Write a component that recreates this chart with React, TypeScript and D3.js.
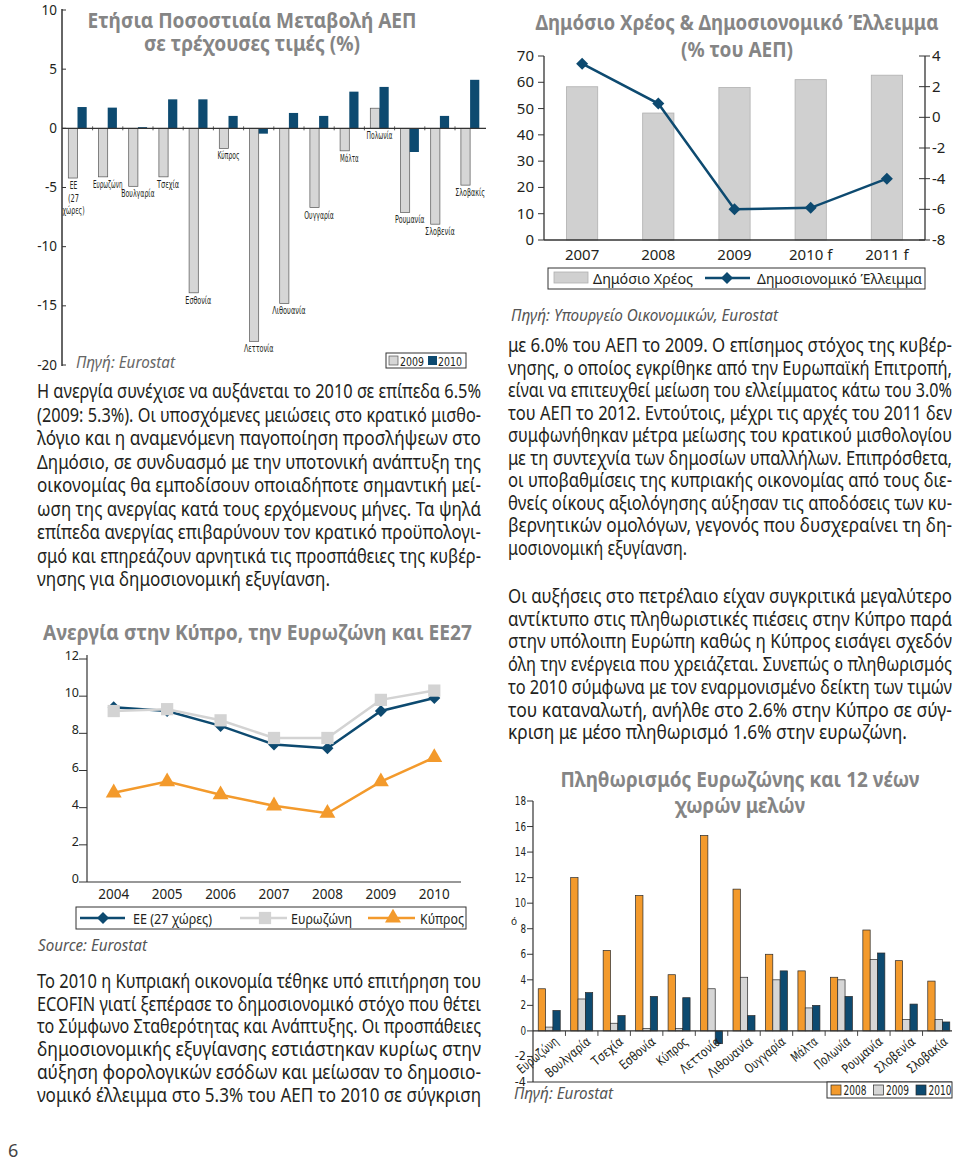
import React from "react";
import * as d3 from "d3";

// ---------- DATA ----------
const gdpCountries = ["ΕΕ\n(27\nχώρες)", "Ευρωζώνη", "Βουλγαρία", "Τσεχία", "Εσθονία", "Κύπρος", "Λεττονία", "Λιθουανία", "Ουγγαρία", "Μάλτα", "Πολωνία", "Ρουμανία", "Σλοβενία", "Σλοβακίς"];
const gdp2009 = [-4.2, -4.1, -4.9, -4.1, -13.9, -1.7, -18.0, -14.8, -6.7, -1.9, 1.7, -7.1, -8.1, -4.8];
const gdp2010 = [1.8, 1.75, 0.1, 2.45, 2.45, 1.05, -0.45, 1.3, 1.05, 3.1, 3.5, -2.0, 1.05, 4.1];
const gdpTicks = [10, 5, 0, -5, -10, -15, -20];

const debtYears = ["2007", "2008", "2009", "2010 f", "2011 f"];
const debtValues = [58.3, 48.3, 58.0, 61.0, 62.7];
const deficitValues = [3.5, 0.9, -6.0, -5.9, -4.0];
const debtTicks = [0, 10, 20, 30, 40, 50, 60, 70];
const deficitTicks = [4, 2, 0, -2, -4, -6, -8];

const unempYears = ["2004", "2005", "2006", "2007", "2008", "2009", "2010"];
const unempEU27 = [9.4, 9.2, 8.4, 7.4, 7.2, 9.2, 9.9];
const unempEurozone = [9.2, 9.3, 8.7, 7.75, 7.75, 9.8, 10.3];
const unempCyprus = [4.8, 5.4, 4.7, 4.1, 3.7, 5.4, 6.7];
const unempTicks = [0, 2, 4, 6, 8, 10, 12];

const inflCountries = ["Ευρωζώνη", "Βουλγαρία", "Τσεχία", "Εσθονία", "Κύπρος", "Λεττονία", "Λιθουανία", "Ουγγαρία", "Μάλτα", "Πολωνία", "Ρουμανία", "Σλοβενία", "Σλοβακία"];
const infl2008 = [3.3, 12.0, 6.3, 10.6, 4.4, 15.3, 11.1, 6.0, 4.7, 4.2, 7.9, 5.5, 3.9];
const infl2009 = [0.3, 2.5, 0.6, 0.2, 0.2, 3.3, 4.2, 4.0, 1.8, 4.0, 5.6, 0.9, 0.9];
const infl2010 = [1.6, 3.0, 1.2, 2.7, 2.6, -1.0, 1.2, 4.7, 2.0, 2.7, 6.1, 2.1, 0.7];
const inflSeries = ["2008", "2009", "2010"];
const inflTicks = [18, 16, 14, 12, 10, 8, 6, 4, 2, 0, -2, -4];

const leftPara = [
  "Η ανεργία συνέχισε να αυξάνεται το 2010 σε επίπεδα 6.5%",
  "(2009: 5.3%). Οι υποσχόμενες μειώσεις στο κρατικό μισθο-",
  "λόγιο και η αναμενόμενη παγοποίηση προσλήψεων στο",
  "Δημόσιο, σε συνδυασμό με την υποτονική ανάπτυξη της",
  "οικονομίας θα εμποδίσουν οποιαδήποτε σημαντική μεί-",
  "ωση της ανεργίας κατά τους ερχόμενους μήνες. Τα ψηλά",
  "επίπεδα ανεργίας επιβαρύνουν τον κρατικό προϋπολογι-",
  "σμό και επηρεάζουν αρνητικά τις προσπάθειες της κυβέρ-",
  "νησης για δημοσιονομική εξυγίανση.",
];
const rightPara1 = [
  "με 6.0% του ΑΕΠ το 2009. Ο επίσημος στόχος της κυβέρ-",
  "νησης, ο οποίος εγκρίθηκε από την Ευρωπαϊκή Επιτροπή,",
  "είναι να επιτευχθεί μείωση του ελλείμματος κάτω του 3.0%",
  "του ΑΕΠ το 2012. Εντούτοις, μέχρι τις αρχές του 2011 δεν",
  "συμφωνήθηκαν μέτρα μείωσης του κρατικού μισθολογίου",
  "με τη συντεχνία των δημοσίων υπαλλήλων. Επιπρόσθετα,",
  "οι υποβαθμίσεις της κυπριακής οικονομίας από τους διε-",
  "θνείς οίκους αξιολόγησης αύξησαν τις αποδόσεις των κυ-",
  "βερνητικών ομολόγων, γεγονός που δυσχεραίνει τη δη-",
  "μοσιονομική εξυγίανση.",
];
const rightPara2 = [
  "Οι αυξήσεις στο πετρέλαιο είχαν συγκριτικά μεγαλύτερο",
  "αντίκτυπο στις πληθωριστικές πιέσεις στην Κύπρο παρά",
  "στην υπόλοιπη Ευρώπη καθώς η Κύπρος εισάγει σχεδόν",
  "όλη την ενέργεια που χρειάζεται. Συνεπώς ο πληθωρισμός",
  "το 2010 σύμφωνα με τον εναρμονισμένο δείκτη των τιμών",
  "του καταναλωτή, ανήλθε στο 2.6% στην Κύπρο σε σύγ-",
  "κριση με μέσο πληθωρισμό 1.6% στην ευρωζώνη.",
];
const bottomPara = [
  "Το 2010 η Κυπριακή οικονομία τέθηκε υπό επιτήρηση του",
  "ECOFIN γιατί ξεπέρασε το δημοσιονομικό στόχο που θέτει",
  "το Σύμφωνο Σταθερότητας και Ανάπτυξης. Οι προσπάθειες",
  "δημοσιονομικής εξυγίανσης εστιάστηκαν κυρίως στην",
  "αύξηση φορολογικών εσόδων και μείωσαν το δημοσιο-",
  "νομικό έλλειμμα στο 5.3% του ΑΕΠ το 2010 σε σύγκριση",
];

// ---------- STYLE ----------
const SANS = "'Noto Sans', 'Open Sans', sans-serif";
const NARROW = "'Liberation Sans Narrow', 'DejaVu Sans Condensed', 'Roboto Condensed', 'Noto Sans', sans-serif";
const TEXT = "#231f20";
const TITLE = "#858585";
const NAVY = "#0d4a70";
const GRAY = "#d3d3d3";
const ORANGE = "#f39a2c";
const AXIS = "#333";

// text squeezed horizontally to a target width w
function Fit({ x, y, w, s = 0.88, anchor = "start", rotate = 0, children, ...rest }: any) {
  return (
    <text transform={`translate(${x},${y}) rotate(${rotate}) scale(${s},1)`} x={0} y={0} textAnchor={anchor}
      textLength={w / s} lengthAdjust="spacingAndGlyphs" {...rest}>{children}</text>
  );
}

function Para({ lines, x, y0, step, width, lastWidth }: any) {
  return (
    <g fontFamily={SANS} fontSize={19.5} fill={TEXT}>
      {lines.map((l: string, i: number) => (
        <Fit key={i} x={x} y={y0 + i * step} s={0.84}
          w={i === lines.length - 1 && lastWidth ? lastWidth : width}>{l}</Fit>
      ))}
    </g>
  );
}

function Title({ lines, cx, ys, widths, size = 21.5 }: any) {
  return (
    <g fontFamily={SANS} fontSize={size} fontWeight={700} fill={TITLE}>
      {lines.map((l: string, i: number) => (
        <Fit key={i} x={cx} y={ys[i]} w={widths[i]} s={0.86} anchor="middle">{l}</Fit>
      ))}
    </g>
  );
}

// ---------- CHART 1: GDP ----------
function GdpChart() {
  const x = d3.scaleBand().domain(gdpCountries).range([62.4, 485.2]);
  const y = d3.scaleLinear().domain([-20, 10]).range([365, 10]);
  const bw = 9.2;
  const y0 = y(0);
  return (
    <g>
      <Title lines={["Ετήσια Ποσοστιαία Μεταβολή ΑΕΠ", "σε τρέχουσες τιμές (%)"]} cx={252} ys={[28, 51]} widths={[329, 216]} />
      {gdpCountries.map((c, i) => {
        const cx = (x(c) as number) + x.bandwidth() / 2;
        const v9 = gdp2009[i], v10 = gdp2010[i];
        return (
          <g key={c}>
            <rect x={cx - bw} width={bw} y={Math.min(y(v9), y0)} height={Math.abs(y(v9) - y0)} fill="#d6d6d6" stroke="#555" strokeWidth={0.7} />
            <rect x={cx} width={bw} y={Math.min(y(v10), y0)} height={Math.max(Math.abs(y(v10) - y0), 0.8)} fill={NAVY} />
          </g>
        );
      })}
      <line x1={62} x2={486} y1={y0} y2={y0} stroke={AXIS} strokeWidth={1.2} />
      {gdpCountries.slice(1).map((c) => (
        <line key={c} x1={x(c) as number} x2={x(c) as number} y1={y0 - 2} y2={y0 + 2} stroke={AXIS} strokeWidth={0.8} />
      ))}
      <line x1={62} x2={62} y1={9} y2={366} stroke={AXIS} strokeWidth={1.5} />
      {gdpTicks.map((t) => (
        <g key={t}>
          <line x1={62} x2={66} y1={y(t)} y2={y(t)} stroke={AXIS} strokeWidth={1} />
          <text x={57} y={y(t) + 4.5} textAnchor="end" fontFamily={SANS} fontSize={13.5} fill={TEXT}>{t}</text>
        </g>
      ))}
      {gdpCountries.map((c, i) => {
        const cx = (x(c) as number) + x.bandwidth() / 2;
        const base = y(Math.min(0, gdp2009[i])) + 11;
        return (
          <g key={c} fontFamily={NARROW} fontSize={10} fill={TEXT}>
            {c.split("\n").map((l, j) => (
              <Fit key={j} x={i === 0 ? cx - 4 : cx} y={base + j * 12.5} w={l.length * 3.7} s={0.62} anchor="middle">{l}</Fit>
            ))}
          </g>
        );
      })}
      <Fit x={76} y={368} w={99} s={0.9} fontFamily={SANS} fontStyle="italic" fontSize={17} fill="#666">Πηγή: Eurostat</Fit>
      <rect x={386} y={353} width={80} height={15} fill="#fff" stroke={AXIS} strokeWidth={1} />
      <rect x={389} y={356} width={9} height={9} fill="#d6d6d6" stroke="#555" strokeWidth={0.7} />
      <Fit x={400} y={365.5} w={24} s={0.75} fontFamily={NARROW} fontSize={13} fill={TEXT}>2009</Fit>
      <rect x={428} y={356} width={9} height={9} fill={NAVY} />
      <Fit x={438} y={365.5} w={24} s={0.75} fontFamily={NARROW} fontSize={13} fill={TEXT}>2010</Fit>
    </g>
  );
}

// ---------- CHART 2: DEBT & DEFICIT ----------
function DebtChart() {
  const x = d3.scaleBand().domain(debtYears).range([544, 925]).paddingInner(0.59).paddingOuter(0.295);
  const yL = d3.scaleLinear().domain([0, 70]).range([240, 56]);
  const yR = d3.scaleLinear().domain([-8, 4]).range([240, 56]);
  const cx = (d: string) => (x(d) as number) + x.bandwidth() / 2;
  const line = d3.line<number>().x((_, i) => cx(debtYears[i])).y((v) => yR(v));
  const diamond = d3.symbol().type(d3.symbolSquare).size(72)() as string;
  return (
    <g>
      <Title lines={["Δημόσιο Χρέος & Δημοσιονομικό Έλλειμμα", "(% του ΑΕΠ)"]} cx={737} ys={[30, 57]} widths={[403, 112]} />
      {debtYears.map((d, i) => (
        <rect key={d} x={x(d)} width={x.bandwidth()} y={yL(debtValues[i])} height={240 - yL(debtValues[i])} fill="#d0d0d0" stroke="#b0b0b0" strokeWidth={0.8} />
      ))}
      <line x1={544} x2={544} y1={56} y2={240} stroke={AXIS} strokeWidth={1.3} />
      <line x1={925} x2={925} y1={56} y2={240} stroke={AXIS} strokeWidth={1.3} />
      <line x1={544} x2={925} y1={240} y2={240} stroke={AXIS} strokeWidth={1.3} />
      {debtTicks.map((t) => (
        <g key={t}>
          <line x1={538} x2={544} y1={yL(t)} y2={yL(t)} stroke={AXIS} />
          <text x={534} y={yL(t) + 5} textAnchor="end" fontFamily={SANS} fontSize={15} fill={TEXT}>{t}</text>
        </g>
      ))}
      {deficitTicks.map((t) => (
        <g key={t}>
          <line x1={919} x2={930} y1={yR(t)} y2={yR(t)} stroke={AXIS} />
          <text x={932} y={yR(t) + 5} fontFamily={SANS} fontSize={15} fill={TEXT}>{t}</text>
        </g>
      ))}
      {debtYears.map((d) => (
        <text key={d} x={cx(d)} y={260} textAnchor="middle" fontFamily={SANS} fontSize={15} fill={TEXT}>{d}</text>
      ))}
      <path d={line(deficitValues) as string} fill="none" stroke={NAVY} strokeWidth={2.5} />
      {deficitValues.map((v, i) => (
        <path key={i} d={diamond} transform={`translate(${cx(debtYears[i])},${yR(v)}) rotate(45)`} fill={NAVY} />
      ))}
      <rect x={548} y={268} width={377} height={21} fill="none" stroke={AXIS} strokeWidth={1} />
      <rect x={554} y={272} width={34} height={11} fill="#d0d0d0" stroke="#b0b0b0" strokeWidth={0.8} />
      <Fit x={593} y={284} w={100} s={0.9} fontFamily={SANS} fontSize={15} fill={TEXT}>Δημόσιο Χρέος</Fit>
      <line x1={705} x2={750} y1={278} y2={278} stroke={NAVY} strokeWidth={2.5} />
      <path d={diamond} transform="translate(727,278) rotate(45)" fill={NAVY} />
      <Fit x={757} y={284} w={165} s={0.9} fontFamily={SANS} fontSize={15} fill={TEXT}>Δημοσιονομικό Έλλειμμα</Fit>
      <Fit x={511} y={321} w={267} s={0.9} fontFamily={SANS} fontStyle="italic" fontSize={16} fill="#555">Πηγή: Υπουργείο Οικονομικών, Eurostat</Fit>
    </g>
  );
}

// ---------- CHART 3: UNEMPLOYMENT ----------
function UnempChart() {
  const x = d3.scaleBand().domain(unempYears).range([87, 461]);
  const y = d3.scaleLinear().domain([0, 12]).range([882, 659]);
  const cx = (i: number) => (x(unempYears[i]) as number) + x.bandwidth() / 2;
  const line = d3.line<number>().x((_, i) => cx(i)).y((v) => y(v));
  const diamond = d3.symbol().type(d3.symbolSquare).size(72)() as string;
  const square = d3.symbol().type(d3.symbolSquare).size(150)() as string;
  const tri = d3.symbol().type(d3.symbolTriangle).size(110)() as string;
  return (
    <g>
      <Title lines={["Ανεργία στην Κύπρο, την Ευρωζώνη και ΕΕ27"]} cx={257.5} ys={[640]} widths={[429]} />
      <line x1={87} x2={87} y1={655} y2={882} stroke={AXIS} strokeWidth={1.2} />
      <line x1={87} x2={461} y1={882} y2={882} stroke={AXIS} strokeWidth={1.2} />
      {unempTicks.map((t) => (
        <g key={t}>
          <line x1={79} x2={87} y1={y(t)} y2={y(t)} stroke={AXIS} />
          <text x={79} y={y(t) + 1} textAnchor="end" fontFamily={SANS} fontSize={12.5} fill={TEXT}>{t}</text>
        </g>
      ))}
      {unempYears.map((d, i) => (
        <text key={d} x={cx(i)} y={899} textAnchor="middle" fontFamily={SANS} fontSize={13.5} fill={TEXT}>{d}</text>
      ))}
      <path d={line(unempEU27) as string} fill="none" stroke={NAVY} strokeWidth={2.5} />
      {unempEU27.map((v, i) => (
        <path key={i} d={diamond} transform={`translate(${cx(i)},${y(v)}) rotate(45)`} fill={NAVY} />
      ))}
      <path d={line(unempEurozone) as string} fill="none" stroke={GRAY} strokeWidth={2.5} />
      {unempEurozone.map((v, i) => (
        <path key={i} d={square} transform={`translate(${cx(i)},${y(v)})`} fill={GRAY} />
      ))}
      <path d={line(unempCyprus) as string} fill="none" stroke={ORANGE} strokeWidth={2.5} />
      {unempCyprus.map((v, i) => (
        <path key={i} d={tri} transform={`translate(${cx(i)},${y(v)})`} fill={ORANGE} />
      ))}
      <rect x={76} y={907} width={390} height={22} fill="none" stroke={AXIS} strokeWidth={1} />
      <line x1={80} x2={125} y1={918} y2={918} stroke={NAVY} strokeWidth={2.5} />
      <path d={diamond} transform="translate(103,918) rotate(45)" fill={NAVY} />
      <Fit x={133} y={923.5} w={79} s={0.9} fontFamily={SANS} fontSize={15} fill={TEXT}>ΕΕ (27 χώρες)</Fit>
      <line x1={240} x2={287} y1={918} y2={918} stroke={GRAY} strokeWidth={2.5} />
      <path d={square} transform="translate(265,918)" fill={GRAY} />
      <Fit x={291} y={923.5} w={61} s={0.9} fontFamily={SANS} fontSize={15} fill={TEXT}>Ευρωζώνη</Fit>
      <line x1={368} x2={415} y1={918} y2={918} stroke={ORANGE} strokeWidth={2.5} />
      <path d={tri} transform="translate(393,918)" fill={ORANGE} />
      <Fit x={420} y={923.5} w={44} s={0.9} fontFamily={SANS} fontSize={15} fill={TEXT}>Κύπρος</Fit>
      <Fit x={38} y={951} w={109} s={0.9} fontFamily={SANS} fontStyle="italic" fontSize={16} fill="#555">Source: Eurostat</Fit>
    </g>
  );
}

// ---------- CHART 4: INFLATION ----------
function InflChart() {
  const x = d3.scaleBand().domain(inflCountries).range([533, 955]);
  const sub = d3.scaleBand().domain(inflSeries).range([-11, 11]);
  const y = d3.scaleLinear().domain([-4, 18]).range([1082, 801]);
  const y0 = y(0);
  const series = [infl2008, infl2009, infl2010];
  const fills = [ORANGE, "#d6d6d6", NAVY];
  return (
    <g>
      <Title lines={["Πληθωρισμός Ευρωζώνης και 12 νέων", "χωρών μελών"]} cx={740} ys={[787, 813]} widths={[359, 130]} />
      <line x1={533} x2={952} y1={1082} y2={1082} stroke={AXIS} strokeWidth={1.2} />
      {inflCountries.map((c, i) => {
        const cx = (x(c) as number) + x.bandwidth() / 2;
        return (
          <g key={c}>
            {inflSeries.map((s, k) => {
              const v = series[k][i];
              return (
                <rect key={s} x={cx + (sub(s) as number)} width={sub.bandwidth()} y={Math.min(y(v), y0)} height={Math.abs(y(v) - y0)} fill={fills[k]} stroke="#2a2a2a" strokeWidth={0.7} />
              );
            })}
          </g>
        );
      })}
      <line x1={533} x2={952} y1={y0} y2={y0} stroke={AXIS} strokeWidth={1.2} />
      {inflCountries.slice(1).map((c) => (
        <line key={c} x1={x(c) as number} x2={x(c) as number} y1={y0} y2={y0 + 5} stroke={AXIS} strokeWidth={0.9} />
      ))}
      <line x1={533} x2={533} y1={801} y2={1082} stroke={AXIS} strokeWidth={1.2} />
      {inflTicks.map((t) => (
        <g key={t}>
          <line x1={527} x2={533} y1={y(t)} y2={y(t)} stroke={AXIS} />
          <Fit x={526} y={y(t) + 4} w={String(t).length * 5.6} s={0.8} anchor="end" fontFamily={NARROW} fontSize={12.5} fill={TEXT}>{t}</Fit>
        </g>
      ))}
      {inflCountries.map((c) => {
        const cx = (x(c) as number) + x.bandwidth() / 2;
        return (
          <Fit key={c} x={cx + 10} y={y0 + 12} rotate={-40} w={c.length * 6.1} s={0.75} anchor="end" fontFamily={NARROW} fontSize={13} fill={TEXT}>{c}</Fit>
        );
      })}
      <text x={511} y={925} fontFamily={SANS} fontSize={10} fill={TEXT}>ό</text>
      <rect x={827} y={1082} width={125} height={16} fill="#fff" stroke={AXIS} strokeWidth={1} />
      {inflSeries.map((s, k) => (
        <g key={s}>
          <rect x={831 + k * 42.5} y={1085} width={10} height={10} fill={fills[k]} stroke="#2a2a2a" strokeWidth={0.7} />
          <Fit x={843.5 + k * 42.5} y={1095} w={23} s={0.75} fontFamily={NARROW} fontSize={14} fill={TEXT}>{s}</Fit>
        </g>
      ))}
      <Fit x={514} y={1099} w={99} s={0.9} fontFamily={SANS} fontStyle="italic" fontSize={16.5} fill="#555">Πηγή: Eurostat</Fit>
    </g>
  );
}

export default function App() {
  return (
    <svg width={960} height={1162} viewBox="0 0 960 1162" style={{ position: "absolute", left: 0, top: 0, background: "#fff" }}>
      <rect width={960} height={1162} fill="#fff" />
      <GdpChart />
      <DebtChart />
      <UnempChart />
      <InflChart />
      <Para lines={leftPara} x={37} y0={398} step={23.5} width={444} lastWidth={293} />
      <Para lines={rightPara1} x={508} y0={352} step={22.5} width={444} lastWidth={179} />
      <Para lines={rightPara2} x={508} y0={603} step={22.7} width={444} lastWidth={399} />
      <Para lines={bottomPara} x={37} y0={988} step={22.7} width={444} />
      <text x={8} y={1157} fontFamily={SANS} fontSize={18} fill="#444">6</text>
    </svg>
  );
}
